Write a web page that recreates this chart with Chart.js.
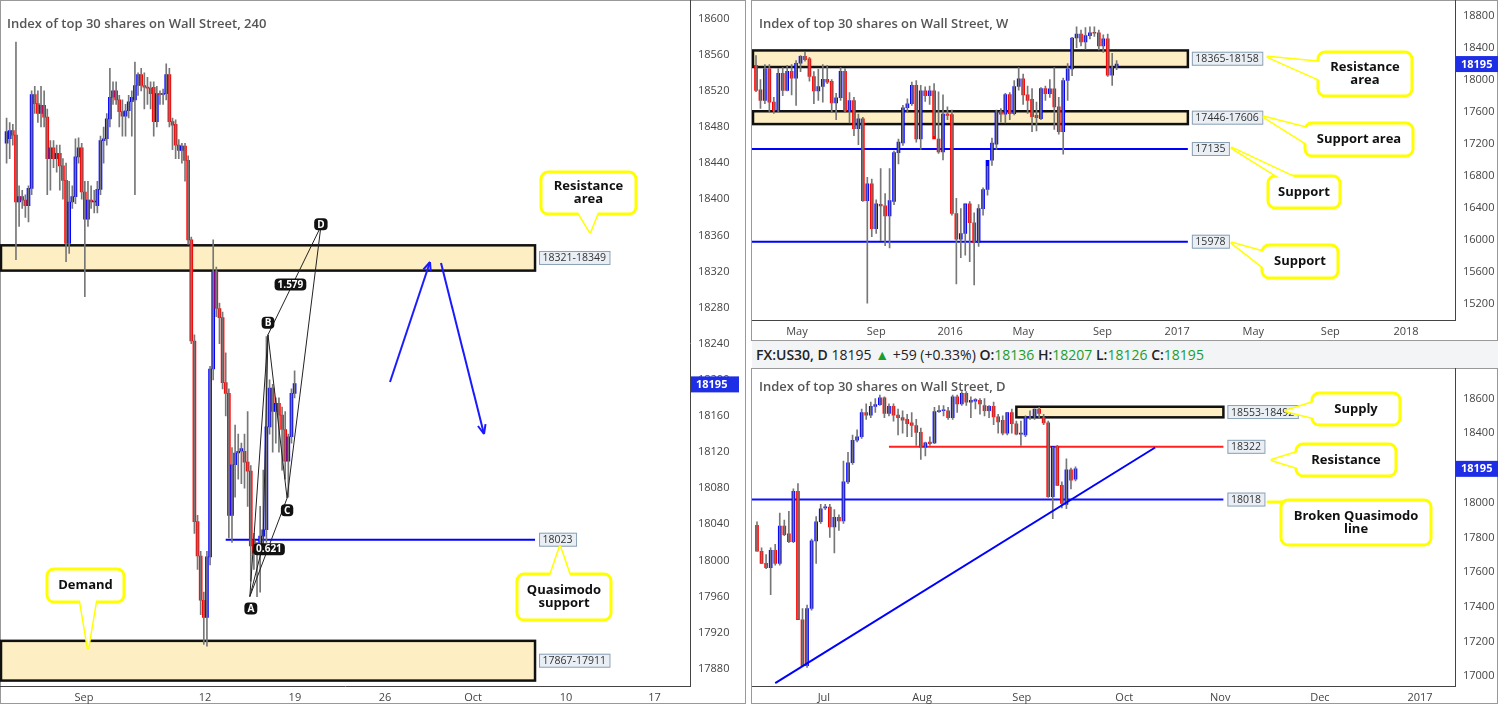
<!DOCTYPE html>
<html><head><meta charset="utf-8">
<script src="https://cdn.jsdelivr.net/npm/chart.js@4.4.0/dist/chart.umd.min.js"></script>
<style>
body{margin:0;width:1498px;height:704px;background:#fff;font-family:"Open Sans",sans-serif;overflow:hidden;position:relative}
canvas{position:absolute}
.pan{position:absolute;border:1px solid #999;box-sizing:border-box}
#hdr{position:absolute;left:752px;top:341px;width:746px;height:27px;background:#f3f4f6;font:14px "Open Sans";color:#222;line-height:27px;padding-left:4px;box-sizing:border-box;white-space:nowrap}
#hdr b{font-weight:600}#hdr .g{color:#1c9c2c}
</style></head><body>
<div class="pan" style="left:0;top:0;width:746px;height:704px"></div>
<div class="pan" style="left:751px;top:0;width:747px;height:341px"></div>
<div class="pan" style="left:751px;top:368px;width:747px;height:336px"></div>
<div id="hdr"><b>FX:US30, D</b> 18195 <span class="g">▲</span> +59 (+0.33%) <b>O:</b><span class="g">18136</span> <b>H:</b><span class="g">18207</span> <b>L:</b><span class="g">18126</span> <b>C:</b><span class="g">18195</span></div>
<canvas id="c1" width="745" height="714" style="left:0;top:-10px"></canvas>
<canvas id="c2" width="746" height="350" style="left:752px;top:-10px"></canvas>
<canvas id="c3" width="746" height="346" style="left:752px;top:358px"></canvas>
<canvas id="ov" width="1498" height="704" style="left:0;top:0;pointer-events:none"></canvas>
<script>
// ===== 240 chart data [open, high, low, close] =====
const h4Candles=[[18462,18490,18440,18475],[18467,18485,18445,18476],[18476,18483,18460,18471],[18471,18574,18333,18397],[18397,18415,18370,18403],[18403,18410,18390,18399],[18399,18405,18380,18393],[18393,18415,18375,18412],[18412,18520,18405,18516],[18516,18525,18495,18506],[18506,18520,18485,18495],[18495,18525,18480,18504],[18504,18520,18480,18491],[18491,18500,18405,18445],[18445,18465,18410,18457],[18457,18465,18435,18445],[18445,18460,18430,18451],[18451,18460,18410,18437],[18437,18445,18400,18421],[18421,18440,18331,18351],[18351,18420,18340,18397],[18397,18415,18390,18403],[18403,18467,18395,18447],[18447,18468,18440,18457],[18457,18462,18400,18408],[18408,18420,18292,18378],[18378,18420,18370,18399],[18399,18415,18390,18397],[18397,18410,18385,18398],[18393,18420,18385,18411],[18411,18470,18405,18465],[18465,18480,18440,18467],[18467,18495,18460,18489],[18489,18545,18480,18513],[18513,18530,18505,18520],[18520,18530,18505,18510],[18510,18515,18480,18497],[18497,18510,18470,18492],[18492,18505,18470,18498],[18498,18515,18490,18508],[18508,18520,18470,18513],[18510,18552,18405,18526],[18526,18540,18515,18538],[18538,18545,18520,18526],[18526,18540,18500,18524],[18524,18535,18505,18523],[18523,18530,18500,18517],[18524,18530,18470,18486],[18486,18525,18480,18517],[18517,18520,18505,18516],[18516,18522,18505,18517],[18517,18550,18510,18538],[18538,18545,18480,18486],[18486,18490,18455,18482],[18483,18488,18445,18460],[18460,18466,18445,18454],[18454,18462,18440,18459],[18459,18462,18420,18443],[18443,18448,18350,18355],[18355,18358,18240,18243],[18243,18250,18030,18043],[18043,18050,17990,18005],[18005,18010,17940,17956],[17956,17965,17907,17937],[17937,18010,17905,18004],[18004,18215,17995,18212],[18212,18355,18200,18320],[18320,18325,18270,18279],[18279,18285,18240,18269],[18269,18275,18190,18197],[18197,18230,18160,18185],[18185,18190,18025,18050],[18050,18125,18020,18106],[18106,18150,18070,18119],[18119,18140,18090,18121],[18121,18130,18085,18124],[18121,18140,18080,18109],[18109,18165,18060,18099],[18099,18105,17977,18016],[18022,18030,17990,18008],[18008,18020,17960,18016],[18016,18060,17965,18027],[18027,18100,18010,18034],[18034,18248,18020,18148],[18148,18200,18140,18191],[18191,18195,18120,18165],[18165,18180,18130,18174],[18174,18180,18120,18161],[18161,18170,18100,18145],[18145,18165,18090,18110],[18110,18140,18070,18137],[18137,18190,18130,18185],[18185,18210,18180,18196]];
const h4XLabels=["Sep","12","19","26","Oct","10","17"];
const h4XPos=[24.7,63.4,92.1,120.9,149,178.7,207];
const h4YTicks=[18600,18560,18520,18480,18440,18400,18360,18320,18280,18240,18200,18160,18120,18080,18040,18000,17960,17920,17880];
const h4Boxes=[[18321,18349,"18321-18349"],[17867,17911,"17867-17911"]];
const h4Lines=[[18023,"18023"]];
// harmonic points X, A, B, C, D  [index, price]
const harmonic={X:[81.9,18017],A:[77.7,17960],B:[83.5,18250],C:[89.6,18069],D:[100.4,18370]};

// ===== Weekly data =====
const wCandles=[[18180,18300,17850,17865],[17875,18000,17640,17740],[17740,18190,17700,18135],[18135,18190,17600,17720],[17720,17780,17580,17615],[17615,18140,17600,18080],[18080,18150,17800,17865],[17865,18180,17860,18105],[18105,18190,17810,18020],[18020,18240,17680,18205],[18205,18300,18100,18290],[18290,18340,18230,18250],[18260,18280,17980,18040],[18040,18100,17700,17860],[17860,18130,17740,17915],[17915,18190,17720,18005],[18005,18180,17950,17970],[17980,18000,17590,17710],[17710,17830,17500,17775],[17775,18150,17740,18105],[18105,18140,17590,17610],[17610,17840,17460,17740],[17740,17780,17300,17390],[17390,17570,17190,17510],[17510,17530,16480,16490],[16490,16780,15210,16700],[16700,16760,16040,16140],[16140,16500,16080,16450],[16445,16890,15990,16425],[16425,16580,15930,16300],[16300,16890,15900,16490],[16480,17110,16440,17090],[17090,17260,16950,17220],[17210,17680,17180,17650],[17650,17760,17600,17700],[17700,17970,17680,17930],[17930,17990,17220,17260],[17260,17930,17130,17860],[17860,17910,17730,17800],[17800,17920,17690,17860],[17860,17950,17300,17260],[17260,17850,17080,17100],[17100,17810,17000,17570],[17570,17660,17500,17555],[17565,17620,16310,16330],[16330,16520,15450,16010],[16010,16390,15780,16080],[16080,16440,15810,16450],[16450,16480,15730,16215],[16215,16340,15440,15965],[15965,16440,15920,16390],[16390,16650,16310,16630],[16630,16920,16560,16995],[16995,17270,16930,17210],[17195,17620,17130,17605],[17605,17640,17470,17570],[17570,17830,17460,17815],[17815,17840,17500,17575],[17575,17990,17560,17915],[17915,18150,17870,18010],[18010,18070,17690,17810],[17810,17920,17580,17740],[17755,17890,17350,17540],[17555,17720,17360,17525],[17515,17900,17500,17890],[17890,17920,17740,17825],[17825,18000,17780,17885],[17885,18150,17380,17660],[17660,17780,17320,17350],[17350,18020,17070,17990],[17990,18200,17740,18135],[18135,18530,18050,18520],[18520,18660,18400,18570],[18570,18620,18420,18470],[18470,18650,18380,18550],[18550,18660,18510,18585],[18585,18660,18540,18580],[18585,18620,18370,18420],[18420,18560,18340,18510],[18510,18570,18040,18055],[18055,18330,17930,18155],[18155,18240,18126,18195]];
const wXLabels=["May","Sep","2016","May","Sep","2017","May","Sep","2018"];
const wXPos=[9.2,27,43.6,60,77.8,94.6,111.7,129,146];
const wYTicks=[18800,18400,18000,17600,17200,16800,16400,16000,15600,15200];
const wBoxes=[[18158,18365,"18365-18158"],[17446,17606,"17446-17606"]];
const wLines=[[17135,"17135"],[15978,"15978"]];

// ===== Daily data =====
const dCandles=[[17870,17890,17720,17720],[17720,17740,17650,17650],[17650,17700,17620,17625],[17625,17740,17470,17725],[17725,17760,17640,17650],[17650,17940,17640,17865],[17865,17900,17810,17815],[17820,17950,17770,17775],[17775,18080,17770,18065],[18065,18110,17330,17325],[17325,17390,17060,17060],[17060,17410,17050,17390],[17390,17790,17380,17780],[17780,17920,17650,17890],[17890,17990,17880,17965],[17970,17990,17960,17970],[17975,17990,17800,17860],[17860,17960,17710,17915],[17915,17930,17840,17895],[17895,18240,17880,18120],[18120,18290,18110,18230],[18230,18390,18220,18360],[18360,18420,18350,18380],[18380,18540,18370,18520],[18520,18570,18480,18505],[18505,18580,18490,18555],[18555,18600,18520,18565],[18565,18620,18560,18605],[18605,18610,18490,18515],[18515,18570,18500,18555],[18555,18570,18470,18505],[18505,18540,18390,18490],[18490,18530,18400,18475],[18480,18510,18380,18455],[18460,18520,18380,18445],[18445,18480,18330,18405],[18405,18430,18250,18320],[18320,18350,18270,18345],[18350,18380,18330,18340],[18345,18550,18340,18525],[18525,18560,18520,18530],[18530,18560,18500,18535],[18530,18550,18480,18490],[18490,18620,18480,18610],[18610,18620,18520,18570],[18570,18640,18560,18630],[18630,18640,18560,18580],[18580,18610,18490,18590],[18585,18600,18540,18595],[18590,18600,18510,18570],[18560,18600,18500,18530],[18530,18560,18490,18555],[18555,18580,18450,18495],[18495,18510,18400,18465],[18475,18500,18390,18400],[18400,18520,18390,18520],[18520,18540,18400,18455],[18455,18470,18390,18395],[18395,18470,18330,18395],[18390,18500,18380,18490],[18490,18530,18480,18495],[18495,18540,18480,18540],[18540,18550,18490,18515],[18490,18510,18450,18460],[18460,18470,18030,18035],[18035,18320,17908,18325],[18325,18330,18100,18100],[18100,18120,17970,17995],[17990,18253,17966,18190],[18190,18200,18080,18130],[18136,18207,18126,18195]];
const dXLabels=["Jul","Aug","Sep","Oct","Nov","Dec","2017"];
const dXPos=[14.7,36.3,58.2,80.7,101.8,123.7,145.7];
const dYTicks=[18600,18400,18200,18000,17800,17600,17400,17200,17000];
const dBoxes=[[18492,18553,"18553-18492"]];
const dLines=[[18322,"18322","#ff2020"],[18018,"18018","#1010ff"]];
const dTrend=[[4,16960],[87.5,18318]];
const lastPrice=18195;

const RED='#ff0000',BLUE='#0000ff';
function labelBox(ctx,x,y,t){ctx.font='10.5px "Open Sans"';const w=ctx.measureText(t).width+7;ctx.fillStyle='#e9eff5';ctx.strokeStyle='#8aa0b4';ctx.lineWidth=1;ctx.fillRect(x,y-7,w,14);ctx.strokeRect(x+.5,y-6.5,w,13);ctx.fillStyle='#333';ctx.textBaseline='middle';ctx.textAlign='left';ctx.fillText(t,x+3.5,y+.5);}
function make(id,cands,o){
  const wick=cands.map((d,i)=>({x:i,y:[d[2],d[1]]}));
  const body=cands.map((d,i)=>({x:i,y:[Math.min(d[0],d[3]),Math.max(d[0],d[3])]}));
  const cols=cands.map(d=>d[3]>=d[0]?BLUE:RED);
  const plug={id:'ov'+id,
    beforeDatasetsDraw(ch){const c=ch.ctx,x=ch.scales.x,y=ch.scales.y,a=ch.chartArea;c.save();
      c.beginPath();c.rect(a.left,a.top,a.width,a.height);c.clip();
      const xe=x.getPixelForValue(o.boxEnd);
      const xs=o.boxFrom!=null?x.getPixelForValue(o.boxFrom):a.left+1;
      (o.boxes||[]).forEach(b=>{const y1=y.getPixelForValue(b[1]),y0=y.getPixelForValue(b[0]);c.fillStyle='#fdefc3';c.fillRect(xs,y1,xe-xs,y0-y1);c.strokeStyle='#111';c.lineWidth=2.5;c.strokeRect(xs,y1,xe-xs,y0-y1);});
      (o.lines||[]).forEach(l=>{const yy=y.getPixelForValue(l[0]);c.strokeStyle=l[2]||BLUE;c.lineWidth=2;c.beginPath();c.moveTo(o.lineStart!=null?x.getPixelForValue(o.lineStart):a.left,yy);c.lineTo(xe,yy);c.stroke();});
      if(o.redLine){const yy=y.getPixelForValue(o.redLine[0]);c.strokeStyle='#ff2020';c.lineWidth=2;c.beginPath();c.moveTo(x.getPixelForValue(o.redFrom),yy);c.lineTo(xe,yy);c.stroke();}
      c.restore();},
    afterDatasetsDraw(ch){const c=ch.ctx,x=ch.scales.x,y=ch.scales.y,a=ch.chartArea;c.save();
      const xe=x.getPixelForValue(o.boxEnd);
      if(o.trend){c.strokeStyle=BLUE;c.lineWidth=2;c.beginPath();c.moveTo(x.getPixelForValue(o.trend[0][0]),y.getPixelForValue(o.trend[0][1]));c.lineTo(x.getPixelForValue(o.trend[1][0]),y.getPixelForValue(o.trend[1][1]));c.stroke();}
      if(o.harm){const P=k=>[x.getPixelForValue(o.harm[k][0]),y.getPixelForValue(o.harm[k][1])];c.strokeStyle='#222';c.lineWidth=1;
        [['X','A'],['A','B'],['B','C'],['C','D'],['A','C'],['B','D'],['X','B']].forEach(s=>{const p=P(s[0]),q=P(s[1]);c.beginPath();c.moveTo(p[0],p[1]);c.lineTo(q[0],q[1]);c.stroke();});
        const tag=(t,px,py)=>{c.font='bold 10px "Open Sans"';const w=c.measureText(t).width+6;c.fillStyle='#111';c.beginPath();c.roundRect(px-w/2,py-6,w,12,4);c.fill();c.fillStyle='#fff';c.textAlign='center';c.textBaseline='middle';c.fillText(t,px,py+.5);};
        const A=P('A'),B=P('B'),C=P('C'),D=P('D'),X=P('X');
        tag('A',A[0]+1,A[1]+12);tag('B',B[0],B[1]-12);tag('C',C[0],C[1]+12);tag('D',D[0],D[1]-2);
        const bd=[(B[0]+D[0])/2,(B[1]+D[1])/2];tag('1.579',bd[0]-4,bd[1]+4);tag('0.621',X[0]+6,X[1]+4);}
      (o.boxes||[]).forEach(b=>labelBox(c,xe+4,y.getPixelForValue((b[0]+b[1])/2),b[2]));
      (o.lines||[]).forEach(l=>labelBox(c,xe+4,y.getPixelForValue(l[0]),l[1]));
      if(o.redLine)labelBox(c,xe+4,y.getPixelForValue(o.redLine[0]),o.redLine[1]);
      const py=y.getPixelForValue(lastPrice);c.fillStyle='#1e2ee6';c.fillRect(a.right+1,py-8,48,16);c.fillStyle='#fff';c.font='bold 11px "Open Sans"';c.textAlign='left';c.textBaseline='middle';c.fillText(String(lastPrice),a.right+6,py+.5);
      c.fillStyle='#555';c.font='600 13px "Open Sans"';c.textAlign='left';c.textBaseline='alphabetic';c.fillText(o.title,a.left+7,a.top+o.titleY);
      c.restore();}};
  return new Chart(document.getElementById(id),{type:'bar',
    data:{datasets:[{data:wick,backgroundColor:'#777',barThickness:1,grouped:false},{data:body,backgroundColor:cols,barThickness:o.bw,grouped:false,minBarLength:1}]},
    options:{responsive:false,animation:false,events:[],plugins:{legend:{display:false},tooltip:{enabled:false}},layout:{padding:0},
      scales:{x:{type:'linear',offset:false,min:o.xmin,max:o.xmax,grid:{display:false,offset:false,tickLength:4},border:{display:true,color:'#444'},
          afterBuildTicks:s=>{s.ticks=o.xpos.map(v=>({value:v}));},afterFit:s=>{s.height=o.xh;},
          ticks:{autoSkip:false,maxRotation:0,color:'#444',font:{size:11,family:'"Open Sans"'},padding:1,callback:(v)=>{const k=o.xpos.indexOf(v);return k>=0?o.xlab[k]:'';}}},
        y:{position:'right',min:o.ymin,max:o.ymax,grid:{display:false,tickLength:4},border:{display:true,color:'#444'},
          afterBuildTicks:s=>{s.ticks=o.yt.map(v=>({value:v}));},afterFit:s=>{s.width=o.yw;},
          ticks:{color:'#444',font:{size:11,family:'"Open Sans"'},padding:4,callback:v=>String(v)}}}},
    plugins:[plug]});
}
make('c1',h4Candles,{bw:3,xmin:-2.1,xmax:218.3,ymin:17861,ymax:18620,xh:18,yw:55,xpos:h4XPos,xlab:h4XLabels,yt:h4YTicks,boxes:h4Boxes,lines:h4Lines,lineStart:70,boxEnd:168.8,harm:harmonic,title:'Index of top 30 shares on Wall Street, 240',titleY:27});
make('c2',wCandles,{bw:3,xmin:-0.9,xmax:157,ymin:15001,ymax:18987,xh:20,yw:43,xpos:wXPos,xlab:wXLabels,yt:wYTicks,boxes:wBoxes,lines:wLines,boxEnd:97,title:'Index of top 30 shares on Wall Street, W',titleY:27});
make('c3',dCandles,{bw:3,xmin:-1.1,xmax:153.4,ymin:16943,ymax:18773,xh:18,yw:43,xpos:dXPos,xlab:dXLabels,yt:dYTicks,boxes:dBoxes,boxFrom:57,lines:[dLines[1]],redLine:dLines[0],redFrom:29,boxEnd:102.5,trend:dTrend,title:'Index of top 30 shares on Wall Street, D',titleY:22});

// ===== overlay: callouts & arrows =====
const o=document.getElementById('ov').getContext('2d');
function callout(x,y,w,h,tx,ty,lines,bx1,bx2){
  o.lineWidth=3;o.strokeStyle='#ffff00';o.fillStyle='#fff';o.lineJoin='round';
  o.beginPath();o.moveTo(bx1[0],bx1[1]);o.lineTo(tx,ty);o.lineTo(bx2[0],bx2[1]);o.closePath();o.fill();o.stroke();
  o.beginPath();o.roundRect(x,y,w,h,7);o.fill();o.stroke();
  o.beginPath();o.moveTo(bx1[0],bx1[1]);o.lineTo(tx,ty);o.lineTo(bx2[0],bx2[1]);o.closePath();o.fill();
  o.fillStyle='#111';o.font='bold 13px "Open Sans"';o.textAlign='center';o.textBaseline='middle';
  lines.forEach((t,i)=>o.fillText(t,x+w/2,y+h/2+(i-(lines.length-1)/2)*13));
}
callout(541,172,95,42,590,232,['Resistance','area'],[578,212],[598,212]);
callout(47,569,77,33,88,648,['Demand'],[80,600],[96,600]);
callout(517,574,94,46,560,547,['Quasimodo','support'],[550,576],[570,576]);
callout(1318,52,94,44,1268,57,['Resistance','area'],[1320,62],[1320,80]);
callout(1305,123,108,33,1264,117,['Support area'],[1307,128],[1307,144]);
callout(1268,176,72,32,1232,148,['Support'],[1280,178],[1296,178]);
callout(1262,245,76,33,1232,243,['Support'],[1264,252],[1264,268]);
callout(1312,393,88,32,1286,411,['Supply'],[1314,402],[1314,418]);
callout(1296,444,100,32,1272,460,['Resistance'],[1298,452],[1298,468]);
callout(1281,500,150,45,1268,502,['Broken Quasimodo','line'],[1290,502],[1310,502]);
function arrow(x1,y1,x2,y2){o.strokeStyle='#1a1aff';o.fillStyle='#1a1aff';o.lineWidth=2;o.beginPath();o.moveTo(x1,y1);o.lineTo(x2,y2);o.stroke();const a=Math.atan2(y2-y1,x2-x1);o.beginPath();o.moveTo(x2,y2);o.lineTo(x2-10*Math.cos(a-0.4),y2-10*Math.sin(a-0.4));o.moveTo(x2,y2);o.lineTo(x2-10*Math.cos(a+0.4),y2-10*Math.sin(a+0.4));o.stroke();}
arrow(390,382,430,262);arrow(441,263,484,434);
</script></body></html>
